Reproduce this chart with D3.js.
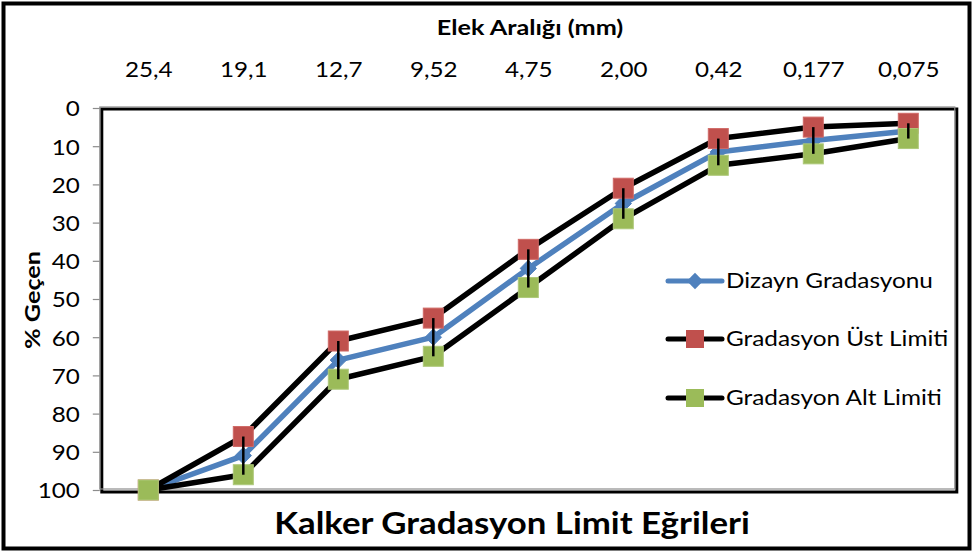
<!DOCTYPE html>
<html>
<head>
<meta charset="utf-8">
<script src="https://cdn.jsdelivr.net/npm/d3@7"></script>
<style>
  html, body { margin: 0; padding: 0; background: #fff; }
  svg { display: block; font-family: Lato, "Open Sans", sans-serif; }
</style>
</head>
<body>
<svg id="chart" width="973" height="553"></svg>
<script>
// Sieve openings (mm), as printed on the top axis
const sieves = ["25,4", "19,1", "12,7", "9,52", "4,75", "2,00", "0,42", "0,177", "0,075"];
// Percent passing for each series
const design = [100, 91, 66, 60, 42, 25, 11.5, 8.5, 6];
const upperLimit = [100, 86, 61, 55, 37, 21, 8, 5, 4];
const lowerLimit = [100, 96, 71, 65, 47, 29, 15, 12, 8];
const yTicks = [0, 10, 20, 30, 40, 50, 60, 70, 80, 90, 100];

const seriesNames = ["Dizayn Gradasyonu", "Gradasyon Üst Limiti", "Gradasyon Alt Limiti"];

const svg = d3.select("#chart");

const plot = { left: 100.8, right: 955.8, top: 108, bottom: 490 };
const stretch = 1.16; // horizontal widening of the text glyphs

const x = d3.scalePoint().domain(sieves).range([plot.left, plot.right]).padding(0.5);
const y = d3.scaleLinear().domain([0, 100]).range([plot.top, plot.bottom]);

// Text helper: places a label at (px, py) with widened glyphs
function label(parent, px, py, str, opts) {
  const o = Object.assign({ size: 21, weight: "normal", anchor: "start", sx: stretch, rotate: 0, dy: 0 }, opts);
  const gg = parent.append("g")
    .attr("transform", `translate(${px},${py}) rotate(${o.rotate}) scale(${o.sx},1)`);
  return gg.append("text")
    .attr("text-anchor", o.anchor).attr("dy", o.dy)
    .attr("font-size", o.size).attr("font-weight", o.weight).attr("fill", "#000")
    .text(str);
}

// Outer chart border
svg.append("rect")
  .attr("x", 3.5).attr("y", 3.5).attr("width", 966).attr("height", 545)
  .attr("fill", "#fff").attr("stroke", "#000").attr("stroke-width", 4);

// Plot area frame: grey outline with a dark inner edge
svg.append("rect")
  .attr("x", plot.left + 1).attr("y", plot.top + 1)
  .attr("width", plot.right - plot.left).attr("height", plot.bottom - plot.top + 1)
  .attr("fill", "none").attr("stroke", "#000").attr("stroke-width", 3);
svg.append("rect")
  .attr("x", plot.left - 1).attr("y", plot.top - 1)
  .attr("width", plot.right - plot.left).attr("height", plot.bottom - plot.top)
  .attr("fill", "none").attr("stroke", "#8c8c8c").attr("stroke-width", 1.2);

// Left axis (percent passing, 0 at top)
const yAxis = svg.append("g")
  .attr("transform", `translate(${plot.left - 1},0)`)
  .call(d3.axisLeft(y).tickValues(yTicks).tickSize(7).tickPadding(0).tickFormat(d3.format("d")));
yAxis.select(".domain").remove();
yAxis.selectAll(".tick line").attr("stroke", "#8c8c8c").attr("stroke-width", 1.2);
yAxis.selectAll(".tick text")
  .attr("font-family", "Lato, sans-serif").attr("font-size", 22).attr("fill", "#000")
  .attr("x", 0).attr("dy", "0.36em")
  .attr("transform", "translate(-20,0) scale(1.1,1)");

// Top axis (sieve sizes)
const xAxis = svg.append("g")
  .attr("transform", `translate(0,77)`)
  .call(d3.axisTop(x).tickSize(0).tickPadding(0));
xAxis.select(".domain").remove();
xAxis.selectAll(".tick text")
  .attr("font-family", "Lato, sans-serif").attr("font-size", 22).attr("fill", "#000")
  .attr("dy", 0).attr("transform", "scale(1.1,1)");

// Axis titles and chart title
label(svg, 530, 35, "Elek Aralığı (mm)", { size: 21, weight: "bold", anchor: "middle", sx: 1.2 });
label(svg, 40, 300, "% Geçen", { size: 21, weight: "bold", anchor: "middle", sx: 1.2, rotate: -90 });
label(svg, 512, 534, "Kalker Gradasyon Limit Eğrileri", { size: 30, weight: "bold", anchor: "middle", sx: 1.16 });

const line = d3.line().x((d, i) => x(sieves[i])).y(d => y(d));
const g = svg.append("g");

// Series lines
g.append("path").datum(design).attr("d", line)
  .attr("fill", "none").attr("stroke", "#4F81BD").attr("stroke-width", 5.5).attr("stroke-linejoin", "round");
g.append("path").datum(upperLimit).attr("d", line)
  .attr("fill", "none").attr("stroke", "#000").attr("stroke-width", 5.5).attr("stroke-linejoin", "round");
g.append("path").datum(lowerLimit).attr("d", line)
  .attr("fill", "none").attr("stroke", "#000").attr("stroke-width", 5.5).attr("stroke-linejoin", "round");

// Markers
const diamond = d3.symbol().type(d3.symbolDiamond2).size(170);
g.selectAll(".dm").data(design).join("path")
  .attr("transform", (d, i) => `translate(${x(sieves[i])},${y(d)})`)
  .attr("d", diamond).attr("fill", "#4F81BD").attr("stroke", "#4F81BD").attr("stroke-width", 1);

const sq = 20;
g.selectAll(".um").data(upperLimit).join("rect")
  .attr("x", (d, i) => x(sieves[i]) - sq / 2).attr("y", d => y(d) - sq / 2)
  .attr("width", sq).attr("height", sq)
  .attr("fill", "#C0504D").attr("stroke", "#d06a67").attr("stroke-width", 1);
g.selectAll(".lm").data(lowerLimit).join("rect")
  .attr("x", (d, i) => x(sieves[i]) - sq / 2).attr("y", d => y(d) - sq / 2)
  .attr("width", sq).attr("height", sq)
  .attr("fill", "#9BBB59").attr("stroke", "#aec97a").attr("stroke-width", 1);

// Range bars between the upper and lower limits
g.selectAll(".eb").data(sieves).join("line")
  .attr("x1", d => x(d)).attr("x2", d => x(d))
  .attr("y1", (d, i) => y(upperLimit[i])).attr("y2", (d, i) => y(lowerLimit[i]))
  .attr("stroke", "#000").attr("stroke-width", 2.5);

// Legend
const legendRows = [
  { name: seriesNames[0], line: "#4F81BD", marker: "diamond", color: "#4F81BD", y: 281 },
  { name: seriesNames[1], line: "#000", marker: "square", color: "#C0504D", y: 339 },
  { name: seriesNames[2], line: "#000", marker: "square", color: "#9BBB59", y: 398 }
];
const lg = svg.append("g");
legendRows.forEach(r => {
  lg.append("line").attr("x1", 668).attr("x2", 722).attr("y1", r.y).attr("y2", r.y)
    .attr("stroke", r.line).attr("stroke-width", 5).attr("stroke-linecap", "round");
  if (r.marker === "diamond") {
    lg.append("path").attr("transform", `translate(695,${r.y})`)
      .attr("d", d3.symbol().type(d3.symbolDiamond2).size(170)).attr("fill", r.color);
  } else {
    lg.append("rect").attr("x", 695 - 9).attr("y", r.y - 9).attr("width", 18).attr("height", 18)
      .attr("fill", r.color);
  }
  label(lg, 726, r.y, r.name, { size: 21, dy: "0.35em" });
});
</script>
</body>
</html>
